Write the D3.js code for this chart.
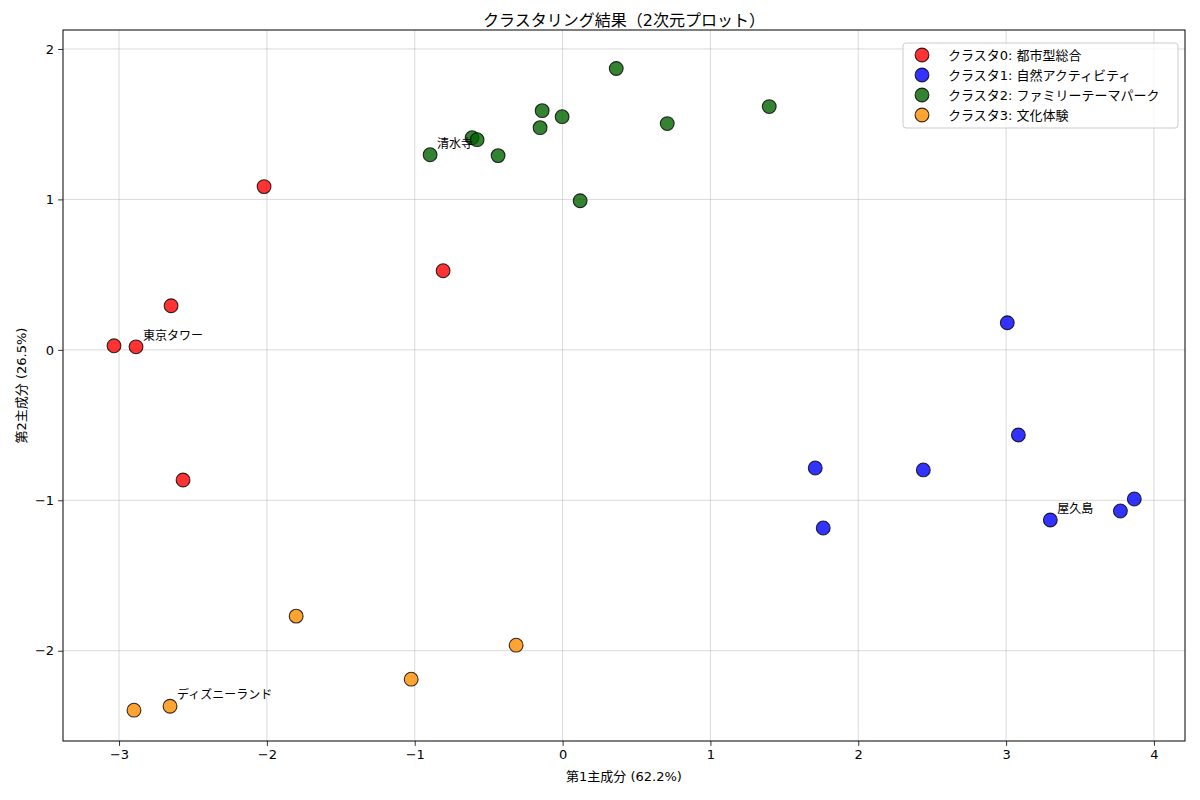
<!DOCTYPE html>
<html>
<head>
<meta charset="utf-8">
<script src="https://cdn.jsdelivr.net/npm/d3@7"></script>
<style>
  body { margin: 0; background: #fff; }
  text { font-family: "DejaVu Sans", "Noto Sans CJK JP", sans-serif; }
</style>
</head>
<body>
<svg id="chart" width="1200" height="800"></svg>
<script>
// cluster names / colours
const clusterNames  = ["クラスタ0: 都市型総合", "クラスタ1: 自然アクティビティ", "クラスタ2: ファミリーテーマパーク", "クラスタ3: 文化体験"]
const clusterColors = ["red", "blue", "darkgreen", "darkorange"]

// PCA coordinates per cluster [pc1, pc2]
const cluster0 = [[-2.019, 1.085], [-0.808, 0.526], [-2.648, 0.293], [-3.034, 0.027], [-2.885, 0.020], [-2.567, -0.865]]
const cluster1 = [[3.008, 0.180], [3.083, -0.566], [1.709, -0.785], [2.440, -0.798], [3.867, -0.991], [3.773, -1.071], [3.299, -1.131], [1.763, -1.184]]
const cluster2 = [[0.363, 1.870], [1.398, 1.617], [-0.138, 1.590], [-0.003, 1.550], [0.708, 1.504], [-0.152, 1.477], [-0.612, 1.410], [-0.578, 1.397], [-0.896, 1.297], [-0.436, 1.291], [0.119, 0.991]]
const cluster3 = [[-1.802, -1.770], [-0.314, -1.963], [-1.024, -2.189], [-2.655, -2.369], [-2.899, -2.395]]
const clusters = [cluster0, cluster1, cluster2, cluster3]

// labelled spots
const labelNames  = ["東京タワー", "清水寺", "屋久島", "ディズニーランド"]
const labelPoints = [[-2.885, 0.020], [-0.896, 1.297], [3.299, -1.131], [-2.655, -2.369]]

const xTicks = [-3, -2, -1, 0, 1, 2, 3, 4]
const yTicks = [-2, -1, 0, 1, 2]

const svg = d3.select("#chart")
const margin = {left: 63, right: 15, top: 30, bottom: 59}
const W = 1200, H = 800
const x = d3.scaleLinear().domain([-3.379, 4.21]).range([margin.left, W - margin.right])
const y = d3.scaleLinear().domain([-2.6, 2.126]).range([H - margin.bottom, margin.top])

const minus = d => d < 0 ? "\u2212" + Math.abs(d) : String(d)

// grid
const grid = svg.append("g")
grid.selectAll(".gx").data(xTicks).join("line")
    .attr("x1", d => x(d)).attr("x2", d => x(d))
    .attr("y1", y.range()[1]).attr("y2", y.range()[0])
    .attr("stroke", "#b0b0b0").attr("stroke-opacity", 0.6).attr("stroke-width", 0.8)
grid.selectAll(".gy").data(yTicks).join("line")
    .attr("x1", x.range()[0]).attr("x2", x.range()[1])
    .attr("y1", d => y(d)).attr("y2", d => y(d))
    .attr("stroke", "#b0b0b0").attr("stroke-opacity", 0.6).attr("stroke-width", 0.8)

// points
clusters.forEach((pts, i) => {
  svg.append("g").selectAll("circle").data(pts).join("circle")
     .attr("cx", d => x(d[0])).attr("cy", d => y(d[1]))
     .attr("r", 6.9)
     .attr("fill", clusterColors[i]).attr("fill-opacity", 0.8)
     .attr("stroke", "black").attr("stroke-opacity", 0.8).attr("stroke-width", 1.1)
})

// annotations
svg.append("g").selectAll("text").data(labelPoints).join("text")
   .attr("x", d => x(d[0]) + 7).attr("y", d => y(d[1]) - 7)
   .attr("font-size", 12).attr("fill", "black")
   .text((d, i) => labelNames[i])

// axes
const xAxis = svg.append("g").attr("transform", `translate(0,${y.range()[0]})`)
   .call(d3.axisBottom(x).tickValues(xTicks).tickFormat(minus).tickSize(4.9).tickPadding(4))
const yAxis = svg.append("g").attr("transform", `translate(${x.range()[0]},0)`)
   .call(d3.axisLeft(y).tickValues(yTicks).tickFormat(minus).tickSize(4.9).tickPadding(4))
;[xAxis, yAxis].forEach(a => {
  a.select(".domain").remove()
  a.selectAll("text").attr("font-size", 13).attr("fill", "black")
  a.selectAll("line").attr("stroke", "black").attr("stroke-width", 0.8)
})

// frame
svg.append("rect")
   .attr("x", x.range()[0]).attr("y", y.range()[1])
   .attr("width", x.range()[1] - x.range()[0]).attr("height", y.range()[0] - y.range()[1])
   .attr("fill", "none").attr("stroke", "black").attr("stroke-width", 1)

// title + axis labels
svg.append("text").attr("x", (x.range()[0] + x.range()[1]) / 2).attr("y", 26)
   .attr("text-anchor", "middle").attr("font-size", 16).text("クラスタリング結果（2次元プロット）")
svg.append("text").attr("x", (x.range()[0] + x.range()[1]) / 2).attr("y", 781)
   .attr("text-anchor", "middle").attr("font-size", 13).text("第1主成分 (62.2%)")
svg.append("text").attr("transform", `translate(26,${(y.range()[0] + y.range()[1]) / 2}) rotate(-90)`)
   .attr("text-anchor", "middle").attr("font-size", 13).text("第2主成分 (26.5%)")

// legend
const lg = svg.append("g").attr("transform", "translate(903,43)")
lg.append("rect").attr("width", 275).attr("height", 85).attr("rx", 3)
  .attr("fill", "white").attr("fill-opacity", 0.8)
  .attr("stroke", "#cccccc").attr("stroke-width", 1)
clusterNames.forEach((name, i) => {
  const row = lg.append("g").attr("transform", `translate(0,${12 + i * 20})`)
  row.append("circle").attr("cx", 19).attr("cy", 0).attr("r", 6.9)
     .attr("fill", clusterColors[i]).attr("fill-opacity", 0.8)
     .attr("stroke", "black").attr("stroke-opacity", 0.8).attr("stroke-width", 1.1)
  row.append("text").attr("x", 45).attr("y", 4.5).attr("font-size", 13).text(name)
})
</script>
</body>
</html>
